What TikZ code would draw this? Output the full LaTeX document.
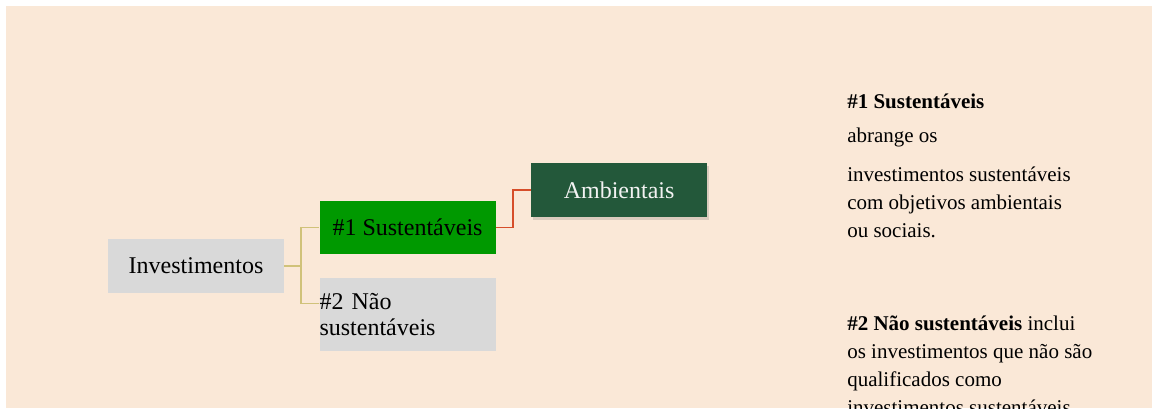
\documentclass[tikz,border=0pt]{standalone}
\usepackage{fontspec}
\setmainfont{Liberation Serif}
\usetikzlibrary{positioning,shadows}

\definecolor{peach}{RGB}{250,232,215}
\definecolor{boxgray}{RGB}{217,217,217}
\definecolor{leafgreen}{RGB}{0,153,0}
\definecolor{darkgreen}{RGB}{35,88,58}
\definecolor{paletext}{RGB}{242,242,242}
\definecolor{tanline}{RGB}{208,194,122}
\definecolor{redline}{RGB}{214,78,42}

\begin{document}
\begin{tikzpicture}[x=0.75pt, y=-0.75pt, node distance=26.25pt,
    every node/.style={inner sep=0pt},
    topic/.style={rectangle, minimum width=132pt, minimum height=40pt, font=\fontsize{18}{19.5}\selectfont},
    branch/.style={draw=tanline, line width=1.2pt},
    subbranch/.style={draw=redline, line width=1.3pt},
    note/.style={anchor=base west, align=left, font=\fontsize{15.75}{20.9}\selectfont}]
    \useasboundingbox (0,0) rectangle (1152,408);
    \clip (0,0) rectangle (1152,408);
    \fill[peach] (6,6) rectangle (1152,408);

    % mind map
    \node[topic, fill=boxgray] (invest) at (196,266) {Investimentos};
    \node[topic, fill=leafgreen, right=of invest, yshift=28.9pt] (sust1) {\#1 Sustentáveis};
    \node[topic, fill=boxgray, below=17.25pt of sust1, minimum height=54.75pt, text width=132pt, align=left] (sust2) {\#2 Não\\sustentáveis};
    \node[topic, fill=darkgreen, text=paletext, right=of sust1, yshift=28.1pt,
          drop shadow={shadow xshift=1.2pt, shadow yshift=-2.2pt, fill=black!70, opacity=0.18}] (ambi) {Ambientais};

    \draw[branch] (invest.east) -- ++(17,0) coordinate (fork) |- (sust1.west);
    \draw[branch] (fork) |- ([yshift=7.9pt]sust2.west);
    \draw[subbranch] (sust1.east) -- ++(17,0) |- (ambi.west);

    % notes (base = last line)
    \node[note, font=\fontsize{15.75}{20.9}\selectfont\bfseries] (title1) at (847,108) {\#1 Sustentáveis};
    \node[note] (intro1) at (847,142.7) {abrange os};
    \node[note] (desc1) at (847,237.3) {investimentos sustentáveis\\com objetivos ambientais\\ou sociais.};
    \node[note] (desc2) at (847,414) {\textbf{\#2 Não sustentáveis} inclui\\os investimentos que não são\\qualificados como\\investimentos sustentáveis};
\end{tikzpicture}
\end{document}
